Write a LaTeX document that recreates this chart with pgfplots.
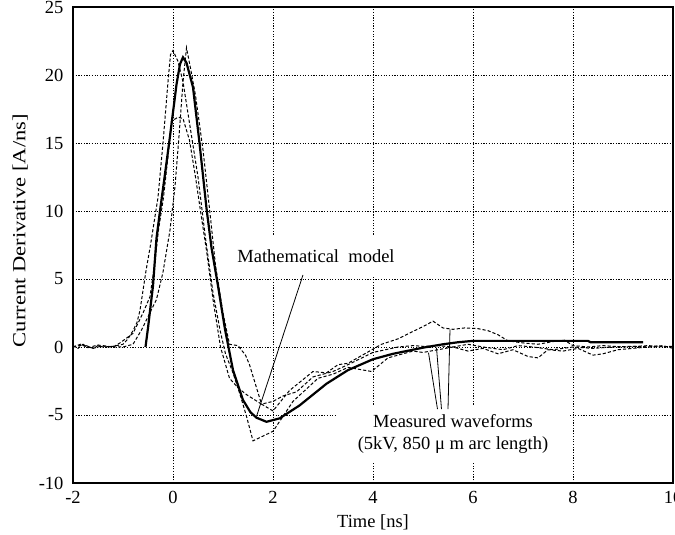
\documentclass[border=0pt]{standalone}
\usepackage{fontspec}
\setmainfont{Liberation Serif}
\usepackage{pgfplots}
\pgfplotsset{compat=1.18}
\begin{document}
\begin{tikzpicture}
\begin{axis}[
  name=ax,
  scale only axis,
  width=600pt, height=476pt,
  xmin=-2, xmax=10, ymin=-10, ymax=25,
  xtick={-2,0,2,4,6,8,10},
  ytick={-10,-5,0,5,10,15,20,25},
  major tick length=0pt,
  /pgf/number format/assume math mode=true,
  font=\fontsize{18.5}{22}\selectfont,
  tick label style={font=\fontsize{18.5}{22}\selectfont},
  yticklabel style={xshift=-6pt},
  xticklabel style={yshift=-5pt},
  grid=major,
  grid style={black, line width=0.75pt, dash pattern=on 1.2pt off 1.5pt},
  axis line style={line width=1.3pt},
  xlabel={Time [ns]},
  ylabel={\scalebox{1.22}[1]{Current Derivative [A/ns]}},
  xlabel style={yshift=-4pt},
  ylabel style={at={(ticklabel cs:0.53)}, anchor=south, yshift=4pt},
  clip=true,
]
% Mathematical model
\addplot[black, line width=2.2pt] coordinates {
(-0.55,0) (-0.5,1.4) (-0.4,4.5) (-0.33,8) (-0.26,10) (-0.15,13) (-0.06,15.5)
(0.07,19.3) (0.14,20.8) (0.2,21.3) (0.27,20.9) (0.4,19.1) (0.53,15) (0.67,10.2)
(0.77,7.3) (0.9,4.5) (1.04,1.3) (1.2,-1.7) (1.4,-3.9) (1.55,-4.8) (1.67,-5.2)
(1.87,-5.5) (2.13,-5.25) (2.53,-4.3) (3.07,-2.7) (3.5,-1.7) (4,-0.9) (4.4,-0.5)
(5,-0.05) (5.4,0.2) (5.7,0.35) (6,0.45) (7,0.45) (8.3,0.45) (8.35,0.35) (9.4,0.35)
};
% Measured A
\addplot[black, line width=1pt, dash pattern=on 3.2pt off 2pt] coordinates {
(-2,0.1) (-1.9,-0.1) (-1.8,0.2) (-1.7,0.05) (-1.6,-0.1) (-1.5,0.1) (-1.4,0) (-1.2,0.05)
(-1.0,0.2) (-0.9,0.6) (-0.8,1.2) (-0.72,1.8) (-0.66,2.7) (-0.54,5.6) (-0.45,7.5)
(-0.3,11) (-0.2,15) (-0.1,19.5) (-0.05,21.5) (0,21.8) (0.1,21) (0.2,19.5) (0.35,16)
(0.5,12.5) (0.65,8) (0.8,4) (0.94,1.25) (1.05,-0.5) (1.2,-1.9) (1.35,-3.6) (1.47,-5.1)
(1.6,-6.9) (2.0,-6.2) (2.4,-4) (2.9,-2.3) (3.2,-2) (3.5,-1.5) (3.97,-1.8) (4.3,-0.8)
(4.8,-0.3) (5.0,-0.4) (5.3,-0.2) (5.6,0) (5.9,-0.3) (6.2,-0.1) (6.5,-0.5) (6.8,-0.2)
(7.1,-0.7) (7.3,-0.8) (7.5,-0.2) (7.8,-0.3) (8.1,-0.1) (8.4,-0.6) (8.6,-0.5) (8.9,-0.2)
(9.2,-0.1) (9.5,0) (9.8,0.1) (10,-0.1)
};
% Measured B
\addplot[black, line width=1pt, dash pattern=on 3.2pt off 2pt] coordinates {
(-2,0) (-1.85,0.2) (-1.7,-0.05) (-1.5,0.15) (-1.3,0) (-1.0,0) (-0.8,0.2) (-0.63,1.25)
(-0.45,2.6) (-0.33,3.5) (-0.2,5.5) (-0.06,8.6) (0.04,11.8) (0.12,15.5) (0.2,19.5)
(0.27,22) (0.35,20.5) (0.45,18.5) (0.6,14.5) (0.75,9.5) (0.85,6) (1.0,2.5) (1.13,0.2)
(1.3,0.1) (1.45,-0.6) (1.53,-1.3) (1.77,-4.2) (2.0,-4.7) (2.33,-3.2) (2.8,-1.8)
(3.07,-1.9) (3.3,-1.3) (3.5,-1.2) (4.17,0.2) (4.5,0.6) (4.83,1.2) (5.0,1.5) (5.2,1.9)
(5.4,1.4) (5.6,1.3) (5.83,1.4) (6.1,1.35) (6.3,1.2) (6.5,0.9) (6.7,0.45) (7.0,0.3)
(7.3,0.2) (7.6,0.4) (7.83,0.5) (8.0,0.1) (8.3,0.0) (8.6,0.1) (9,0) (9.5,0.1) (10,0)
};
% Measured C
\addplot[black, line width=1pt, dash pattern=on 3.2pt off 2pt] coordinates {
(-2,0) (-1.8,0.15) (-1.6,-0.1) (-1.4,0.1) (-1.2,0) (-1.06,0.3) (-0.8,1) (-0.6,2.5)
(-0.46,3.7) (-0.37,6) (-0.29,8.6) (-0.19,11) (-0.1,14) (-0.03,16.6) (0.1,16.9)
(0.2,16.8) (0.33,15.2) (0.45,12.5) (0.55,10) (0.67,7.1) (0.8,3.5) (0.95,0) (1.13,-2.3)
(1.3,-3) (1.47,-3.5) (1.77,-4.2) (2.0,-4.0) (2.2,-3.6) (2.47,-3.3) (2.8,-2.2)
(3.2,-1.8) (3.5,-1.3) (4.0,-0.4) (4.5,0) (4.8,0.1) (5.0,0.05) (5.3,0.1) (5.6,0)
(5.9,0.2) (6.2,0) (6.6,-0.2) (6.9,0.1) (7.2,0) (7.6,-0.2) (8.0,0) (8.4,-0.1)
(8.8,0) (9.2,0.05) (9.6,0) (10,0.05)
};
% annotations
\node[fill=white, inner xsep=8pt, inner ysep=14pt] at (axis cs:2.86,6.69) {Mathematical\ \ model};
\draw[black, line width=0.8pt] (axis cs:2.6,5.3) -- (axis cs:1.67,-5.1);
\node[fill=white, align=center, inner xsep=22pt, inner ysep=9pt] at (axis cs:5.6,-6.4)
  {Measured waveforms\\(5kV, 850 μ m arc length)};
\draw[black, line width=0.8pt] (axis cs:5.29,-4.57) -- (axis cs:5.11,-0.42);
\draw[black, line width=0.8pt] (axis cs:5.37,-4.57) -- (axis cs:5.27,-0.05);
\draw[black, line width=0.8pt] (axis cs:5.5,-4.57) -- (axis cs:5.54,1.3);
\end{axis}
\pgfresetboundingbox
\path[use as bounding box] ([xshift=-73pt,yshift=-52pt]ax.south west) rectangle ([xshift=2pt,yshift=7pt]ax.north east);
\end{tikzpicture}
\end{document}
